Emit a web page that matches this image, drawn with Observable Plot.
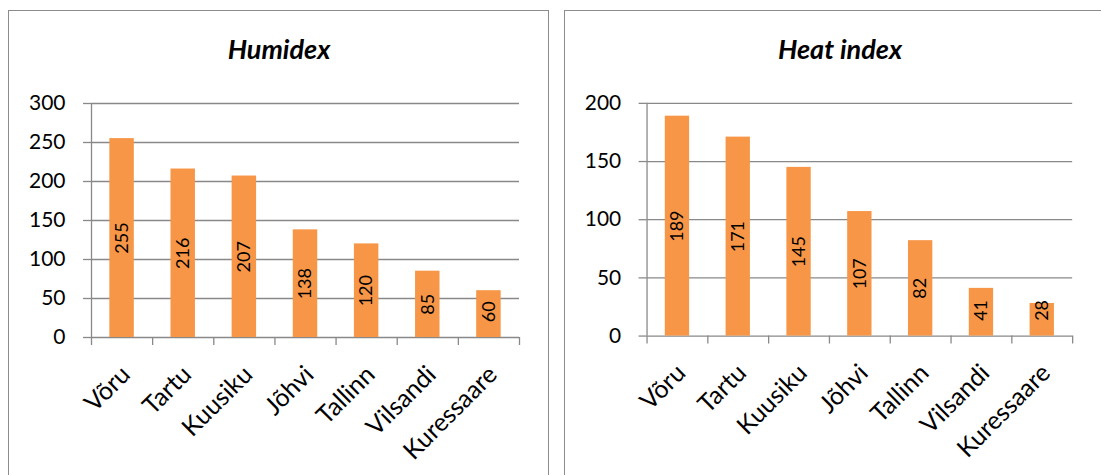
<!DOCTYPE html>
<html><head><meta charset="utf-8">
<script src="https://cdn.jsdelivr.net/npm/d3@7"></script>
<script src="https://cdn.jsdelivr.net/npm/@observablehq/plot@0.6"></script>
<style>
html,body{margin:0;padding:0;background:#fff;overflow:hidden;}
#page{position:relative;width:1101px;height:475px;overflow:hidden;font-family:Lato,sans-serif;}
.panel{position:absolute;top:10px;height:480px;border:1.5px solid #8c8c8c;box-sizing:border-box;}
.title{position:absolute;top:35px;width:540px;text-align:center;font-size:27px;font-weight:bold;font-style:italic;line-height:27px;color:#000;white-space:nowrap;}
.chart{position:absolute;top:80px;}
</style></head><body>
<div id="page">
  <div class="panel" style="left:7.5px;width:541.5px"></div>
  <div class="panel" style="left:563.5px;width:560px"></div>
  <div class="title" style="left:9px">Humidex</div>
  <div class="title" style="left:570px">Heat index</div>
  <div class="chart" id="c1" style="left:8px"></div>
  <div class="chart" id="c2" style="left:564px"></div>
</div>
<script>
const stations = ["Võru", "Tartu", "Kuusiku", "Jõhvi", "Tallinn", "Vilsandi", "Kuressaare"];
const humidexValues = [255, 216, 207, 138, 120, 85, 60];
const heatIndexValues = [189, 171, 145, 107, 82, 41, 28];
const humidexTicks = [0, 50, 100, 150, 200, 250, 300];
const heatIndexTicks = [0, 50, 100, 150, 200];

const gridColor = "#898989";
const barColor = "#F79646";

function makeChart(values, ticks) {
  const rows = stations.map((name, i) => ({name, i, value: values[i]}));
  const yMax = ticks[ticks.length - 1];
  const n = stations.length;
  return Plot.plot({
    width: 540,
    height: 395,
    marginLeft: 83,
    marginRight: 29,
    marginTop: 23,
    marginBottom: 138,
    style: {fontFamily: "Lato, sans-serif", background: "transparent", overflow: "visible"},
    x: {type: "linear", domain: [0, n], label: null},
    y: {domain: [0, yMax], label: null},
    marks: [
      Plot.ruleY(ticks, {stroke: gridColor, strokeWidth: 1.3}),
      Plot.ruleX([0], {stroke: gridColor, strokeWidth: 1.3}),
      Plot.axisY({ticks, tickSize: 8, tickPadding: 18, fontSize: 21, stroke: gridColor, strokeWidth: 1.3, fill: "#000", label: null}),
      Plot.axisX({ticks: d3.range(0, n + 1), tickSize: 8, tickFormat: () => "", stroke: gridColor, strokeWidth: 1.3, label: null}),
      Plot.rect(rows, {x1: d => d.i + 0.3, x2: d => d.i + 0.7, y1: 0, y2: "value", fill: barColor}),
      Plot.text(rows, {x: d => d.i + 0.5, y: d => Math.max(d.value / 2, yMax * 0.11), text: d => String(d.value), rotate: -90, fontSize: 18, fill: "#000"}),
      Plot.text(rows, {x: d => d.i + 0.5, y: 0, text: "name", rotate: -45, textAnchor: "end", dx: 4, dy: 33, fontSize: 25, fill: "#000"})
    ]
  });
}

document.getElementById("c1").appendChild(makeChart(humidexValues, humidexTicks));
document.getElementById("c2").appendChild(makeChart(heatIndexValues, heatIndexTicks));
</script>
</body></html>
